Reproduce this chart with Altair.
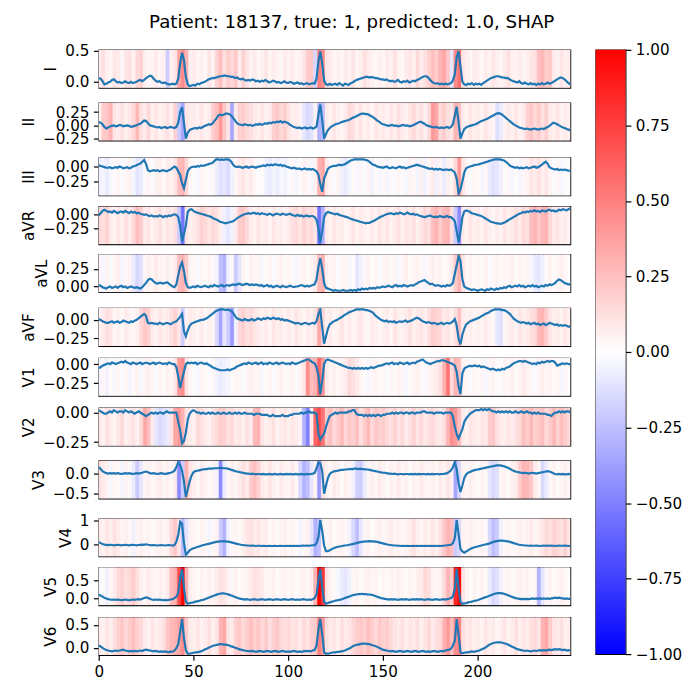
import altair as alt
import pandas as pd

FONT = "DejaVu Sans"
TITLE = "Patient: 18137, true: 1, predicted: 1.0, SHAP"
LEADS = ["I", "II", "III", "aVR", "aVL", "aVF", "V1", "V2", "V3", "V4", "V5", "V6"]

# ECG samples, hundredths (250 samples per lead)
SIG_I = [6, 5, 1, -4, -3, -1, 0, 3, 4, 1, -1, 0, -2, -1, 1, -1, -2, 0, -2, -1, 0, 2, 3, 1, 3,
         6, 8, 10, 9, 5, 2, 0, 1, -1, -2, -1, -3, -4, -4, -3, -4, -3, 5, 30, 47, 35, 8, -4, -7, -6,
         -5, -6, -3, -4, -2, -1, 0, 2, 4, 5, 6, 6, 7, 8, 9, 9, 10, 10, 9, 9, 8, 8, 6, 7, 5,
         4, 5, 3, 2, 3, 2, 4, 3, 1, 2, 0, 2, 1, 3, 1, -1, 0, 2, 1, -1, 0, -2, -1, 1, -1,
         -2, 0, -1, -3, -2, -1, -3, -2, -4, -3, -2, -4, -3, -2, -3, 5, 33, 49, 30, 2, -4, -5, -3, -5, -4,
         -3, -5, -2, -4, -6, -3, -4, -5, -2, -1, 1, 3, 4, 5, 6, 7, 8, 8, 7, 8, 7, 6, 6, 5, 4,
         4, 3, 4, 2, 1, 2, 0, 1, 3, 0, -1, 1, 0, 2, -1, 0, 2, 1, 3, 4, 6, 8, 9, 9, 7,
         3, 0, -2, -3, -2, -4, -3, -4, -3, -4, -3, -2, 2, 12, 40, 49, 25, 0, -4, -5, -3, -4, -2, -5, -3,
         -4, -3, -5, -2, 0, 2, 4, 6, 7, 8, 9, 9, 8, 7, 7, 6, 6, 4, 2, 1, 0, -1, 1, -2, -3,
         -1, -3, -4, -2, -4, -3, -5, -3, -4, -2, -4, -3, -1, -3, -2, 0, 2, 4, 6, 7, 6, 4, 1, -2, -4]
SIG_II = [6, 5, 2, -3, -6, -4, -2, -1, 0, -2, -1, 1, 0, -2, -1, 0, -1, -3, -2, -1, 0, 2, 3, 6, 9,
          8, 4, 0, -1, -2, -3, -4, -3, -5, -4, -3, -5, -4, -3, -4, -5, -3, 5, 25, 34, 5, -25, -14, -9, -7,
          -6, -5, -6, -4, -5, -3, -1, 0, 2, 1, 3, 8, 12, 18, 20, 19, 20, 22, 22, 21, 18, 14, 9, 4, 2,
          1, 0, 2, 1, 0, 1, -1, 0, 2, 1, 3, 1, 2, 4, 3, 5, 4, 6, 5, 7, 6, 8, 5, 7, 6,
          4, 1, -1, -3, -4, -5, -4, -6, -5, -4, -6, -5, -4, -6, -5, -2, 20, 39, 10, -25, -16, -9, -5, -2, 0,
          2, 3, 4, 6, 7, 8, 9, 10, 12, 14, 15, 17, 19, 21, 22, 22, 21, 21, 19, 17, 15, 12, 9, 7, 4,
          2, 1, 0, -1, 0, 1, -1, 0, -2, -1, 0, 1, -1, 0, -2, -1, 0, 2, 4, 6, 7, 5, 3, 0, -1,
          -2, -3, -4, -3, -4, -5, -4, -5, -4, -3, -5, -3, 2, 18, 35, 5, -25, -15, -7, -4, -2, -1, 0, 1, 2,
          4, 6, 8, 9, 11, 12, 14, 16, 18, 20, 22, 23, 22, 20, 17, 14, 11, 8, 5, 2, 0, -2, -4, -5, -6,
          -7, -6, -7, -8, -7, -6, -7, -8, -7, -6, -7, -5, -3, -1, 2, 5, 4, 2, 0, -2, -4, -5, -7, -8, -9]
SIG_III = [2, 1, 0, -1, -2, -2, -1, -3, -2, -1, -2, 0, -1, -3, -2, -1, -3, -2, 0, 1, 2, 4, 5, 8, 11,
           4, -6, -8, -7, -6, -7, -6, -8, -7, -6, -7, -8, -6, -5, -2, 0, -2, -8, -14, -28, -36, -22, -8, -3, -1,
           0, -1, 1, 0, 2, 1, 2, 3, 4, 5, 6, 9, 12, 12, 11, 12, 11, 12, 12, 11, 8, 3, 0, -1, 0,
           -1, -2, -1, 0, -2, -1, 0, -1, -2, 0, 0, 1, 2, 1, 3, 2, 3, 2, 4, 3, 2, 3, 1, 2, 0,
           -1, -2, -3, -2, -3, -4, -3, -5, -4, -3, -5, -4, -5, -4, -6, -8, -14, -30, -42, -20, -12, -4, -1, 0, 1,
           1, 2, 3, 2, 3, 4, 6, 8, 10, 11, 12, 12, 12, 12, 12, 12, 11, 10, 8, 5, 3, 2, 0, -1, -1,
           -2, -1, 0, -2, -3, -1, -2, -3, -1, 0, -2, -1, -3, -2, -1, 0, 1, 2, 3, 2, 1, 0, -1, -2, -3,
           -4, -3, -5, -4, -5, -4, -5, -6, -5, -5, -6, -5, -7, -10, -20, -45, -38, -25, -10, -3, -1, 0, 1, 2, 3,
           3, 4, 5, 6, 7, 8, 9, 10, 11, 12, 12, 12, 12, 11, 10, 8, 5, 2, 0, -1, -2, -1, -3, -2, -3,
           -2, -1, -3, -2, -1, 0, -2, -1, 1, 3, 6, 8, 5, -1, -3, -4, -5, -4, -6, -5, -6, -5, -6, -7, -7]
SIG_AVR = [-2, 2, 6, 8, 6, 4, 5, 3, 6, 4, 2, 4, 5, 3, 6, 4, 2, 5, 3, 4, 2, 3, 1, 0, -1,
           0, -2, -3, -2, -4, -3, -4, -2, -3, -5, -3, -4, -2, -3, -1, 0, -1, -5, -20, -48, -35, -20, 4, 8, 9,
           6, 4, 3, 2, 1, 0, -1, -2, -3, -4, -6, -8, -9, -11, -13, -14, -15, -16, -15, -14, -13, -12, -10, -7, -5,
           -3, -1, 0, 1, 2, 1, 2, 3, 1, 2, 0, 2, 1, 0, -1, 1, 0, -2, 0, 1, 0, -1, 1, 0, -1,
           0, 1, -1, -2, -3, -1, -3, -2, -4, -3, -2, -4, -3, -3, -5, -10, -25, -50, -30, -5, 2, 4, 3, 2, 1,
           0, 1, -1, -2, -3, -4, -5, -6, -8, -9, -10, -11, -12, -13, -14, -15, -16, -15, -15, -13, -12, -10, -8, -6, -4,
           -3, -1, 0, 1, 2, 1, 0, 2, 1, 3, 2, 0, 1, 3, 1, 0, 1, -1, 0, -2, -3, -4, -5, -4, -3,
           -2, -4, -5, -4, -5, -3, -4, -5, -4, -3, -5, -5, -8, -12, -30, -49, -30, -5, 5, 7, 6, 4, 2, 1, 0,
           -1, -2, -3, -5, -7, -9, -11, -13, -14, -15, -16, -16, -17, -16, -15, -13, -11, -9, -7, -5, -3, -1, 1, 2, 4,
           3, 5, 4, 6, 5, 7, 5, 6, 4, 7, 6, 5, 7, 8, 6, 7, 5, 6, 8, 7, 9, 8, 7, 9, 11]
SIG_AVL = [2, 1, -1, -2, -3, -1, 0, -2, -1, 0, -2, 0, 1, -1, 0, -2, -1, 0, -1, -2, -1, -2, -3, -1, 2,
           5, 9, 11, 10, 7, 5, 4, 5, 5, 4, 5, 6, 4, 2, 0, -1, 3, 16, 28, 34, 22, 5, -1, -2, -1,
           0, -1, 1, 0, -1, 0, 1, 0, -1, 1, 0, 2, 1, 0, 1, 2, 0, 1, 2, 1, 2, 3, 2, 3, 4,
           3, 2, 3, 4, 3, 2, 3, 2, 3, 2, 1, 2, 0, 1, 2, 0, 1, -1, 0, 1, 0, -1, 1, 0, -1,
           0, 1, 0, -1, 0, 0, 1, 2, 1, 0, 1, 0, 1, 2, 3, 10, 28, 40, 25, 5, -2, -3, -4, -5, -6,
           -5, -6, -6, -6, -5, -6, -6, -6, -5, -6, -5, -6, -4, -5, -3, -4, -3, -4, -2, -3, -2, -3, -1, -2, -1,
           0, -1, 0, 1, 0, -1, 1, 2, 0, 1, 0, 2, 1, 0, 1, 2, 1, 3, 4, 6, 7, 8, 9, 7, 5,
           3, 4, 2, 1, 2, 1, 0, 1, 0, 2, 1, 2, 5, 18, 30, 43, 36, 10, 0, -2, -3, -4, -5, -4, -5,
           -6, -5, -4, -5, -6, -4, -5, -3, -4, -5, -3, -4, -2, -3, -1, -2, 0, 1, -1, 0, 1, 0, 2, 0, 1,
           -1, 0, 1, 0, 2, 0, 1, -1, 0, 1, 0, 2, 1, 3, 2, 3, 5, 8, 10, 9, 7, 5, 4, 3, 3]
SIG_AVF = [1, 0, -2, -3, -4, -4, -3, -2, -4, -3, -2, -4, -3, -1, -2, -3, -4, -2, -3, -1, 0, 2, 4, 6, 8,
           5, -4, -5, -4, -5, -5, -6, -4, -5, -6, -5, -4, -5, -6, -4, -3, -2, 1, 4, 8, -15, -22, -14, -8, -5,
           -4, -3, -2, -1, 0, 0, 1, 2, 4, 6, 8, 10, 12, 13, 14, 14, 14, 13, 14, 13, 12, 9, 5, 2, 1,
           0, -1, 1, 0, -1, 0, 1, -1, 0, 2, 1, 0, 2, 1, 3, 2, 1, 3, 2, 1, 2, 0, 1, -1, 0,
           -1, -2, -3, -4, -5, -4, -5, -6, -5, -4, -5, -6, -5, -4, -5, -2, 8, 14, -10, -32, -22, -12, -6, -4, -2,
           -1, 0, 2, 3, 5, 7, 8, 10, 11, 12, 13, 14, 14, 14, 14, 14, 13, 13, 12, 11, 9, 6, 4, 2, 0,
           -1, -2, -1, -3, -2, -3, -2, -4, -3, -2, -3, -2, -1, -3, -2, -1, 0, 2, 3, 2, 0, -2, -3, -4, -3,
           -4, -5, -4, -5, -6, -5, -4, -6, -5, -4, -5, -4, -2, 1, -8, -25, -33, -20, -12, -6, -4, -2, -1, 0, 1,
           2, 3, 5, 6, 8, 9, 10, 12, 13, 14, 14, 14, 14, 13, 13, 12, 10, 8, 5, 2, 0, -2, -3, -4, -3,
           -4, -5, -4, -6, -5, -4, -6, -5, -7, -6, -5, -7, -6, -4, -5, -6, -7, -6, -8, -7, -8, -7, -8, -9, -9]
SIG_V1 = [-5, -4, -2, -1, 0, 1, 0, 2, 1, 0, 1, 2, 3, 2, 4, 2, 1, 0, 2, 1, 0, 1, 2, 0, 1,
          2, 1, 0, 1, 2, 0, 1, 2, 1, 0, 1, 0, 2, 1, 0, 0, -4, -16, -31, -20, -10, 0, 2, 1, 2,
          1, 2, 0, 1, 2, 1, 0, 1, -1, -2, -4, -5, -6, -7, -8, -8, -8, -8, -7, -8, -7, -6, -5, -3, -2,
          -1, 0, 1, 0, 2, 1, 0, 1, 2, 0, 1, 2, 0, 1, 0, 2, 1, 0, 1, 2, 0, 1, 2, 1, 0,
          1, 0, 2, 1, 0, 1, 2, 3, 4, 5, 6, 6, 4, 2, 1, -4, -15, -39, -22, 0, 5, 6, 5, 4, 3,
          2, 1, 0, -1, -2, -3, -4, -5, -5, -6, -5, -6, -5, -6, -5, -6, -5, -6, -5, -4, -5, -4, -3, -2, -2,
          -1, 0, 1, 0, 1, 2, 0, 1, 0, 2, 1, 0, 1, 2, 0, 1, 2, 1, 3, 4, 5, 6, 4, 2, 1,
          0, 1, 2, 3, 4, 4, 5, 5, 4, 3, 2, 1, 0, -2, -10, -29, -39, -12, -6, -4, -3, -2, -3, -2, -2,
          -3, -2, -4, -3, -4, -5, -6, -7, -6, -7, -8, -7, -8, -6, -7, -5, -4, -3, -1, 1, 2, 3, 4, 4, 3,
          4, 3, 2, 1, 0, 1, 0, 2, 1, 3, 2, 3, 4, 3, 4, 4, 2, -2, -1, 0, 1, 0, 1, 0, 0]
SIG_V2 = [2, 1, 0, -1, -1, 0, 1, 0, 2, 1, 0, 1, 1, 0, 2, 1, 0, 1, 0, -1, 0, 1, 0, -1, -2,
          -3, -2, -1, 0, -1, 0, -1, 0, 0, -1, 0, 1, 0, 0, 0, 0, 0, -8, -15, -26, -24, -17, -6, -1, 1,
          2, 1, 0, 0, -1, 0, -1, -1, 0, -1, 0, -1, -1, 0, -1, -1, 0, -1, -1, 0, -1, -1, 0, -1, 0,
          -1, -1, 0, -1, -1, -1, -1, -2, -1, -1, -1, -2, -2, -2, -2, -3, -3, -2, -3, -3, -3, -3, -2, -3, -3,
          -3, -2, -2, -1, -1, -1, -1, 0, -1, 0, 0, 1, 0, 0, 0, -1, -18, -23, -20, -18, -12, -7, -3, -2, -1,
          0, -1, 0, 0, 0, 0, 0, 1, 1, 2, 2, -1, -2, -2, -2, -3, -2, -3, -2, -3, -2, -3, -2, -2, -3,
          -2, -2, -1, -1, -1, 0, -1, 0, -1, 0, 0, -1, 0, 0, -1, 0, 0, -1, 0, 0, 0, 1, 1, 0, 0,
          0, 0, -1, 0, 0, 0, 0, -1, 0, 0, 0, 0, -3, -12, -18, -22, -18, -14, -8, -5, -3, -1, 0, 1, 2,
          2, 2, 3, 2, 3, 2, 3, 2, 1, 1, 0, 1, 0, 1, 0, 1, 0, 1, 0, 0, 1, 0, 0, 1, 0,
          0, 1, 0, 0, -1, 0, -1, 0, -1, -1, -1, -1, -2, -2, -3, -1, 0, 0, 1, 0, 1, 0, 1, 1, 0]
SIG_V3 = [15, 10, 5, 2, 0, -1, 0, -1, 0, -1, 0, -1, -2, -1, 0, -1, 0, -1, -2, -1, 0, -1, 0, 1, 3,
          4, 2, 0, -1, 0, -1, -2, -1, 0, -1, -2, -1, 0, 1, 3, 6, 15, 26, 20, 5, -20, -58, -40, -20, -6,
          2, 5, 6, 7, 8, 9, 10, 10, 11, 11, 11, 12, 12, 12, 13, 13, 12, 12, 11, 10, 8, 7, 5, 4, 3,
          2, 1, 0, -1, -1, -2, -1, -2, -3, -2, -2, -3, -2, -3, -3, -2, -3, -3, -2, -3, -3, -2, -3, -3, -2,
          -3, -2, -3, -3, -2, -3, -3, -2, -3, -3, -2, -3, -2, -1, 0, 12, 26, 24, 5, -50, -30, -12, -2, 2, 4,
          5, 6, 7, 8, 8, 9, 9, 10, 10, 10, 11, 11, 10, 11, 10, 10, 9, 9, 8, 7, 6, 5, 4, 3, 2,
          1, 1, 0, -1, -1, -2, -1, -2, -3, -2, -2, -3, -2, -2, -3, -2, -3, -2, -3, -2, -3, -2, -2, -3, -2,
          -3, -2, -3, -2, -2, -3, -2, -2, -1, 0, 3, 7, 15, 26, 10, -25, -46, -30, -12, -3, 1, 3, 5, 7, 8,
          9, 10, 11, 12, 13, 14, 15, 16, 17, 18, 19, 19, 19, 18, 17, 15, 13, 11, 8, 6, 4, 3, 2, 1, 0,
          1, 0, -1, 0, 1, 0, -1, 0, 1, 2, 3, 4, 5, 4, 2, 0, -2, -3, -2, -3, -2, -3, -3, -2, -3]
SIG_V4 = [9, 5, 1, -1, -2, -3, -2, -3, -4, -3, -2, -3, -4, -3, -2, -3, -4, -3, -2, -3, -4, -3, -2, -1, -2,
          0, -2, -3, -4, -3, -4, -5, -4, -3, -4, -5, -4, -3, -4, -5, -3, 10, 40, 93, 85, 5, -43, -35, -25, -20,
          -16, -14, -11, -9, -6, -4, -2, 0, 2, 4, 6, 8, 10, 11, 12, 12, 13, 12, 11, 10, 8, 6, 4, 2, 0,
          -2, -3, -4, -5, -5, -6, -5, -6, -7, -6, -6, -7, -6, -7, -7, -6, -7, -7, -6, -7, -7, -6, -7, -7, -6,
          -7, -6, -7, -6, -7, -6, -7, -6, -5, -6, -5, -6, -5, -4, -4, 5, 30, 100, 55, -5, -28, -28, -25, -20, -16,
          -13, -11, -9, -8, -6, -5, -4, -3, -1, 1, 3, 5, 7, 9, 10, 11, 12, 12, 13, 12, 12, 11, 10, 8, 6,
          4, 2, 0, -2, -3, -4, -5, -5, -6, -6, -7, -6, -7, -6, -7, -7, -6, -7, -6, -7, -6, -7, -6, -7, -6,
          -7, -6, -7, -6, -7, -6, -7, -6, -5, -4, -3, -2, 5, 26, 100, 40, -20, -30, -35, -30, -25, -20, -16, -13, -11,
          -9, -7, -5, -3, -1, 1, 3, 6, 9, 11, 13, 14, 15, 15, 14, 13, 12, 10, 8, 5, 3, 0, -2, -3, -4,
          -5, -5, -6, -5, -6, -6, -5, -6, -7, -6, -5, -6, -5, -6, -5, -6, -7, -6, -5, -6, -6, -5, -6, -7, -6]
SIG_V5 = [9, 7, 4, 1, -1, -3, -4, -5, -4, -5, -4, -5, -6, -5, -4, -5, -6, -5, -4, -5, -4, -3, -4, -2, 0,
          2, 1, -2, -4, -5, -4, -5, -4, -5, -6, -5, -6, -5, -4, -3, 0, 4, 15, 56, 81, 28, -10, -16, -14, -13,
          -12, -10, -9, -8, -6, -5, -3, -1, 1, 3, 5, 7, 9, 11, 12, 13, 13, 12, 11, 9, 7, 5, 3, 1, -1,
          -2, -3, -4, -3, -4, -5, -4, -3, -4, -5, -4, -3, -4, -5, -4, -3, -4, -5, -4, -3, -4, -5, -4, -3, -4,
          -5, -4, -3, -4, -5, -4, -5, -4, -3, -4, -5, -4, -5, -3, 0, 10, 50, 81, 30, -10, -16, -14, -12, -10, -9,
          -7, -6, -5, -4, -2, 0, 2, 4, 6, 8, 9, 10, 11, 11, 12, 11, 11, 10, 10, 9, 8, 6, 4, 2, 0,
          -1, -2, -3, -4, -3, -4, -3, -4, -5, -4, -3, -4, -3, -4, -5, -4, -3, -4, -3, -4, -3, -4, -5, -4, -3,
          -4, -5, -4, -3, -4, -5, -4, -3, -4, -3, -2, 0, 5, 25, 81, 28, -10, -16, -15, -14, -12, -11, -10, -8, -7,
          -6, -4, -2, 0, 2, 4, 6, 8, 10, 12, 13, 14, 14, 13, 12, 10, 8, 6, 4, 2, 0, -1, -2, -3, -2,
          -3, -2, -3, -2, -1, -2, -1, -2, -1, -2, -1, -2, -1, -2, -1, 0, 1, 0, 1, 0, -1, -2, -1, -2, -2]
SIG_V6 = [5, 3, 0, -3, -5, -6, -7, -8, -7, -6, -7, -6, -5, -4, -6, -7, -8, -7, -8, -7, -8, -7, -6, -7, -5,
          -4, -5, -6, -7, -8, -7, -8, -9, -8, -9, -8, -9, -10, -8, -9, -6, -1, 8, 35, 63, 22, -5, -13, -13, -12,
          -11, -10, -10, -9, -8, -6, -4, -2, 0, 2, 4, 5, 6, 7, 8, 8, 7, 7, 6, 5, 3, 2, 0, -1, -3,
          -4, -5, -6, -7, -7, -8, -7, -8, -9, -8, -7, -8, -9, -8, -7, -8, -9, -8, -7, -8, -9, -8, -7, -8, -9,
          -8, -9, -8, -7, -8, -9, -8, -9, -8, -7, -8, -7, -8, -6, -5, 5, 40, 63, 30, -10, -13, -13, -12, -11, -10,
          -10, -9, -9, -8, -7, -6, -4, -2, 0, 3, 5, 6, 7, 8, 9, 9, 9, 8, 8, 6, 5, 4, 2, 0, -2,
          -4, -5, -6, -7, -8, -7, -8, -9, -8, -7, -8, -9, -8, -7, -8, -9, -8, -7, -8, -9, -8, -7, -8, -9, -8,
          -9, -8, -7, -8, -9, -8, -7, -8, -6, -5, -4, -2, 5, 15, 63, 28, -10, -12, -11, -10, -10, -9, -8, -9, -8,
          -7, -6, -4, -2, 0, 3, 6, 8, 10, 11, 12, 12, 12, 11, 10, 9, 7, 5, 3, 1, -1, -3, -4, -5, -6,
          -7, -6, -7, -8, -7, -6, -7, -6, -5, -6, -5, -6, -5, -4, -5, -4, -3, -4, -3, -4, -5, -4, -6, -5, -6]

# SHAP values, hundredths, one value per pair of samples (125 per lead)
SHAP_I = [8, 12, 6, 4, 10, 8, 3, 10, 12, 5, 15, 18, 6, 3, 5, 8, 4, 6, -20, 6, 10, 35, 45, 30, 6,
          8, 4, 6, 3, 10, 5, 18, 25, 12, 20, 15, 22, 8, 18, 10, 5, 8, 3, 6, 10, 4, 7, 5, 3, 8,
          5, 8, 4, 6, 10, 20, 22, -15, 50, 45, 10, 8, 4, 6, 3, 8, 5, 10, 4, 6, 12, 8, 5, 3, 6,
          4, 8, 6, 12, 5, 3, 8, 10, 6, 15, 8, 12, 18, 25, 20, 30, 35, 22, -10, 45, 55, 10, 6, 4, 8,
          6, 3, 8, 5, 10, 6, 4, 8, 12, 6, 5, 8, 4, 6, 10, 12, 25, 28, 20, 22, 8, 5, 10, 6, 8]
SHAP_II = [5, 20, 22, 30, 10, 8, 12, 6, 10, 15, 28, 12, 8, 15, 6, 10, 5, 8, 12, 6, 18, -20, -35, 10, 8,
           8, 6, 10, 5, 8, 20, 25, 40, 22, 10, -35, 8, 18, 20, 15, 12, 8, 6, 10, 5, 8, 18, 22, 15, 20,
           10, 6, 8, 5, -10, -15, -12, 5, -30, -25, 8, 5, 10, 6, 4, 8, 15, 12, 6, 10, 5, 8, 4, 10, 6,
           8, 5, 10, 6, 12, 8, 5, 10, 15, 8, 12, 6, 15, 40, 35, 15, 20, 12, 10, 30, 25, 8, 5, 10, 6,
           8, 5, 10, 6, 4, -12, -8, 5, 8, 6, 10, 5, 8, 18, 22, 15, 20, 12, 18, 8, 6, 10, 5, 8, 6]
SHAP_III = [-6, -4, -8, -3, 2, 4, -2, 3, 5, -4, -10, -8, 2, 4, -2, 5, 6, 3, 8, 5, 10, 25, 30, 15, 3,
            2, -3, 4, 2, -2, 3, -8, -12, -10, -14, -6, 4, 8, 10, 6, 8, 3, -2, 2, -5, -8, -4, -7, -3, -5,
            -2, 3, -4, 2, 5, 3, -3, 5, 30, 35, 8, 3, -2, 4, -6, -8, -4, 2, -3, 3, -2, 4, -5, 2, -3,
            3, -4, 2, -2, 4, 2, -3, 5, 3, -4, 6, -5, 4, 8, -6, 5, -8, 6, 4, 15, 40, 10, 3, -2, 4,
            2, -3, 3, -8, -12, -10, -6, 2, 4, -3, 2, -4, 3, 5, 10, 8, 12, 6, 10, 4, -2, 3, -3, 2, -2]
SHAP_AVR = [15, 12, 18, 8, 5, 10, 6, 12, 8, 15, 25, 20, 8, 10, 5, 8, 12, 6, 10, 8, 12, -20, -55, 10, 6,
            8, 12, 18, 15, 10, 15, 12, 6, -6, -10, -5, 8, 20, 22, 15, 8, 5, 10, 6, 8, 4, 10, 6, 8, 5,
            8, 12, 15, 10, 18, 12, 15, 10, -55, -30, 8, 5, 10, 6, 8, 4, 6, 10, 5, 8, 6, 4, 8, 5, 10,
            6, 10, 5, 8, 12, 6, 10, 8, 12, 6, 10, 15, 12, 25, 30, 20, 28, 30, 12, -20, -45, 8, 5, 10, 6,
            8, 5, 10, 6, 4, 8, 5, 10, 6, 8, 12, 8, 15, 12, 25, 30, 22, 28, 30, 15, 8, 10, 6, 8, 5]
SHAP_AVL = [3, -3, 5, -2, 4, 6, -4, 3, 5, -8, -15, -12, 3, 6, 4, 8, 5, 3, 6, 4, 8, 25, 30, 20, 4,
            3, -2, 4, 2, 5, 3, -5, -25, -30, -5, 3, -20, -10, 4, 2, 6, 3, 5, -3, 2, 4, -2, 3, 5, 2,
            4, 2, -3, 3, 5, 2, 4, 8, 28, 30, 6, 3, 5, -2, 3, 4, -3, 2, -10, -5, 3, 5, 2, 4, -2,
            3, 5, 2, 4, -3, 3, 6, 2, 4, 5, 3, -3, 4, 6, 3, 5, 2, 4, 8, 20, 30, 10, 3, 5, 2,
            4, 2, 5, -2, 3, 5, 2, 4, 3, 6, 2, 4, 3, 5, -3, -8, -10, -6, 3, 5, 2, 4, 6, 3, 2]
SHAP_AVF = [5, 8, 12, 10, 4, 6, 3, 8, 5, 3, 6, 15, 22, 18, 8, 5, 10, 6, 8, 12, 18, 10, -20, 5, 8,
            6, 4, 8, 3, 6, 4, -15, -35, -10, -20, -40, -5, 15, 18, 12, 15, 10, 8, 5, 8, 4, 10, 6, 8, 5,
            8, 5, 10, 6, 4, 8, 6, 10, 35, 15, 6, 8, 4, 6, 10, 5, 8, 4, 6, 10, 5, 3, 8, 6, 4,
            6, 8, 4, 10, 6, 5, 8, 12, 6, 8, 10, 6, 12, 20, 18, 15, 8, 10, 6, 12, 25, 8, 5, 6, 4,
            6, 4, 8, 5, 3, -10, -12, 4, 6, 8, 5, 10, 6, 8, 12, 15, 28, 30, 20, 10, 6, 8, 5, 10, 6]
SHAP_V1 = [-4, 3, -5, 2, -3, 4, -2, 3, -4, 2, 5, -3, 4, 6, 3, -2, 4, 2, 5, 3, 10, 40, 45, 10, 3,
           2, -3, 4, 2, -2, 3, -5, -8, -6, -4, 2, 4, 3, -2, 4, 6, 3, 5, -3, 2, 4, -2, 3, 5, 2,
           3, 5, -2, 4, 10, 45, 25, 30, 60, 40, 8, 4, 6, 3, 5, 8, 15, 12, 8, 4, 2, -3, 3, 5, 2,
           3, -2, 4, 2, 5, 3, -3, 2, 4, 6, 3, -2, 4, 5, 8, 12, 30, 55, 15, 30, 25, 5, 3, -2, 4,
           2, 4, -3, 3, 5, 2, -2, 4, 3, 6, 2, 4, 8, 5, 3, -2, 4, 6, 3, 5, 2, 4, -3, 3, 2]
SHAP_V2 = [10, 5, 12, 8, 4, 10, 15, 6, 8, 12, 5, 15, 35, 25, 8, -10, -15, -12, -8, 10, 35, 40, 30, 10, 8,
           6, 15, 12, 8, 5, 10, 15, 20, 18, 12, 15, 8, 10, 6, 12, 8, 28, 30, 10, 6, 8, 12, 5, 8, 10,
           6, 10, 8, 5, -30, -50, 8, 60, 70, 55, 20, 25, 15, 20, 28, 15, 22, 18, 25, 12, 20, 28, 15, 22, 18,
           20, 15, 12, 18, 10, 15, 8, 12, 18, 10, 15, 8, 12, 15, 10, 8, 12, 30, 45, 40, 25, 8, 6, 10, 8,
           6, 10, 8, 20, 22, 12, 8, 6, 10, 8, 12, 15, 25, 20, 28, 18, 22, 25, 15, 20, 28, 18, 25, 20, 15]
SHAP_V3 = [12, 8, 5, -3, 4, 2, -4, 5, 3, -8, -20, -10, 4, 6, 3, 5, 8, 4, 6, 3, 8, -45, -20, 30, 10,
           6, 3, 8, 5, 2, 4, -5, -45, -8, 3, 6, 4, 8, 12, 8, 20, 25, 18, 8, 5, 10, 6, 3, 8, 5,
           4, 8, 3, -15, -30, -25, -10, 5, -40, 10, 6, 3, 8, 5, 2, 6, 4, -5, -18, -20, -8, 4, 6, 3, 8,
           5, 2, 6, 4, 8, 3, 5, 2, 6, 4, 8, 5, 3, 6, 4, 8, 5, 10, 6, -35, -15, 5, 3, 6, 4,
           2, 5, 3, -10, -15, -12, 3, 5, 2, 6, 8, 20, 30, 28, 22, 8, 4, -15, -8, 3, 5, 2, 4, 6, 3]
SHAP_V4 = [8, 5, 10, 6, 12, 8, 4, 6, 3, -5, 4, 6, 3, 5, 2, 4, 6, 3, 5, 15, 22, 10, -25, -10, 5,
           4, 2, 5, 3, -4, 3, 5, -20, -30, -5, 3, 5, 2, 6, 10, 12, 8, 10, 6, 8, 3, 5, 2, 4, 6,
           3, 5, 2, -4, 3, 5, -10, -30, -25, 5, 3, 6, 2, 4, 5, 3, -5, -15, -25, -10, 3, 5, 2, 4, 6,
           3, 5, 8, 4, 6, 3, 5, 8, 12, 6, 4, 8, 5, 10, 6, 12, 22, 30, 25, -20, -15, 5, 3, 6, 4,
           3, 5, 2, -15, -25, -20, -5, 3, 5, 2, 4, 6, 3, 5, 8, 4, 6, 10, 15, 12, 18, 15, 12, 18, 10]
SHAP_V5 = [-3, 2, -5, 3, 8, 15, 18, 12, 15, 20, 12, 6, 4, 8, 5, 3, 6, 4, 8, 25, 30, 70, 100, 30, 6,
           4, 2, 5, 3, 6, 4, 8, 12, 10, 5, 3, 6, 2, 4, 5, 8, 12, 10, 8, 4, 3, 6, 2, 4, 5,
           3, 5, 2, 4, 6, 3, 8, 30, 100, 80, 10, 4, 2, -3, -8, -10, -6, 3, 5, 2, 4, 6, 3, 5, 2,
           4, 2, 5, 3, 6, 4, 2, 5, 3, 6, 8, 15, 12, 5, 3, 6, 15, 30, 20, 85, 100, 10, 4, 2, 5,
           3, 5, 2, -8, -15, -12, -5, 3, 5, 2, 4, 6, 3, 5, 2, 4, -30, -10, 3, 5, 2, 4, 6, 3, 2]
SHAP_V6 = [8, 5, 10, 6, 12, 18, 22, 15, 20, 25, 18, 15, 8, 5, 10, 6, 8, 12, 22, 28, 30, 35, 45, 20, 8,
           6, 10, 5, 8, 12, 6, 10, 30, 35, 10, 8, 18, 22, 15, 20, 25, 18, 22, 15, 20, 12, 18, 22, 15, 12,
           15, 10, 12, 8, 15, 10, 18, 20, 50, 40, 12, 8, 10, 6, 12, 8, 10, 15, 20, 22, 18, 25, 20, 15, 22,
           18, 20, 15, 10, 8, 12, 6, 10, 8, 12, 6, 10, 15, 8, 12, 15, 30, 40, 25, 45, 50, 12, 8, 10, 6,
           8, 5, 10, 6, 8, 4, 6, 10, 5, 8, 12, 6, 10, 8, 12, 15, 10, 30, 35, 20, 10, 8, 12, 6, 8]

SIGNALS = [SIG_I, SIG_II, SIG_III, SIG_AVR, SIG_AVL, SIG_AVF, SIG_V1, SIG_V2, SIG_V3, SIG_V4, SIG_V5, SIG_V6]
SHAPS = [SHAP_I, SHAP_II, SHAP_III, SHAP_AVR, SHAP_AVL, SHAP_AVF, SHAP_V1, SHAP_V2, SHAP_V3, SHAP_V4, SHAP_V5, SHAP_V6]

Y_LO = [-0.095, -0.286, -0.48, -0.529, -0.08, -0.351, -0.412, -0.28, -0.62, -0.5, -0.2, -0.16]
Y_HI = [0.516, 0.425, 0.15, 0.14, 0.455, 0.158, 0.08, 0.04, 0.306, 1.07, 0.86, 0.67]
Y_TICKS = [[0, 0.5], [-0.25, 0, 0.25], [-0.25, 0], [-0.25, 0], [0, 0.25], [-0.25, 0],
           [-0.25, 0], [-0.25, 0], [-0.5, 0], [0, 1], [0, 0.5], [0, 0.5]]
Y_FMT = [".1f", ".2f", ".2f", ".2f", ".2f", ".2f", ".2f", ".2f", ".1f", "d", ".1f", ".1f"]
X_TICKS = [0, 50, 100, 150, 200]
X_MAX = 249
CB_TICKS = [-1, -0.75, -0.5, -0.25, 0, 0.25, 0.5, 0.75, 1]

# layout (whole pixels)
W = 473
H = 38
GAPS = [15, 17, 11, 10, 16, 12, 12, 15, 20, 11, 12]
CB_W = 30
CB_H = 606

CSCALE = alt.Scale(domain=[-1, 0, 1], range=["#0000ff", "#ffffff", "#ff0000"], interpolate="rgb")


def panel(k):
    sig = SIGNALS[k]
    shap = SHAPS[k]
    last = k == len(LEADS) - 1
    xscale = alt.Scale(domain=[0, X_MAX], nice=False, zero=False)
    if last:
        xaxis = alt.Axis(values=X_TICKS, format="d", labelFlush=False, labelOverlap=False)
    else:
        xaxis = None
    bg_df = pd.DataFrame({
        "x0": [2 * i - 0.5 for i in range(len(shap))],
        "x1": [2 * i + 1.5 for i in range(len(shap))],
        "shap": [v / 100 for v in shap],
    })
    ln_df = pd.DataFrame({"t": list(range(len(sig))), "mv": [v / 100 for v in sig]})
    bg = alt.Chart(bg_df).mark_rect(clip=True, strokeWidth=0.5).encode(
        x=alt.X("x0:Q", scale=xscale, axis=xaxis, title=None),
        x2="x1:Q",
        color=alt.Color("shap:Q", scale=CSCALE, legend=None),
        stroke=alt.Stroke("shap:Q", scale=CSCALE, legend=None),
    )
    ln = alt.Chart(ln_df).mark_line(color="#1f77b4", strokeWidth=2.2, clip=True).encode(
        x=alt.X("t:Q", scale=xscale, axis=xaxis, title=None),
        y=alt.Y("mv:Q", scale=alt.Scale(domain=[Y_LO[k], Y_HI[k]], nice=False, zero=False),
                axis=alt.Axis(values=Y_TICKS[k], format=Y_FMT[k], title=LEADS[k],
                              labelFlush=False, labelOverlap=False)),
    )
    return alt.layer(bg, ln).properties(width=W, height=H)


def spacer(h):
    return alt.Chart(pd.DataFrame({"a": [0]})).mark_point(opacity=0).encode(
        x=alt.X("a:Q", scale=alt.Scale(domain=[0, X_MAX]), axis=None),
        y=alt.Y("a:Q", axis=None),
    ).properties(width=W, height=h, view=alt.ViewBackground(stroke="transparent"))


items = []
for k in range(len(LEADS)):
    items.append(panel(k))
    if k < len(GAPS):
        items.append(spacer(GAPS[k]))

left = alt.vconcat(*items, spacing=0, bounds="flush").resolve_scale(y="independent")

cb_df = pd.DataFrame({"a": [0], "b": [1], "lo": [CB_TICKS[0]], "hi": [CB_TICKS[-1]]})
cb = alt.Chart(cb_df).mark_rect(
    color=alt.Gradient(
        gradient="linear",
        stops=[alt.GradientStop(color="#0000ff", offset=0),
               alt.GradientStop(color="#ffffff", offset=0.5),
               alt.GradientStop(color="#ff0000", offset=1)],
        x1=0, x2=0, y1=1, y2=0)
).encode(
    x=alt.X("a:Q", scale=alt.Scale(domain=[0, 1], nice=False), axis=None),
    x2="b:Q",
    y=alt.Y("lo:Q", scale=alt.Scale(domain=[-1, 1], nice=False, zero=False),
            axis=alt.Axis(orient="right", values=CB_TICKS, format=".2f", title=None,
                          labelFlush=False, labelOverlap=False)),
    y2="hi:Q",
).properties(width=CB_W, height=CB_H)

chart = alt.hconcat(left, cb, spacing=23.4, bounds="full").resolve_scale(
    x="independent", y="independent"
).properties(
    title=alt.TitleParams(TITLE, font=FONT, fontSize=18.3, fontWeight="normal", color="black",
                          anchor="middle", offset=10.4),
    padding={"left": 21, "top": 11, "right": 4, "bottom": 2},
).configure_view(
    stroke="black", strokeWidth=1.2
).configure_axis(
    labelFont=FONT, titleFont=FONT, labelFontSize=15.2, titleFontSize=15.2,
    labelColor="black", titleColor="black", tickColor="black", tickSize=5.3, tickWidth=1.2,
    labelPadding=4.5, titlePadding=6, titleFontWeight="normal", domain=False, grid=False,
)

chart.save("out.html", embed_options={"renderer": "svg", "actions": False})
